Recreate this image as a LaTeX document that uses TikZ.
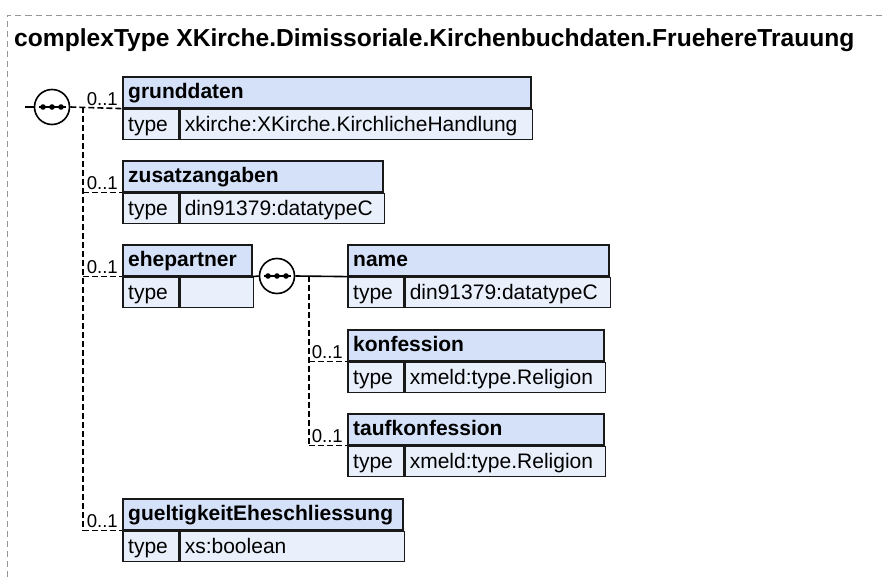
\documentclass[tikz,border=0pt]{standalone}
\usepackage{fontspec}
\setmainfont{Liberation Sans}
\definecolor{hdrblue}{RGB}{212,225,248}
\definecolor{typblue}{RGB}{233,240,252}
\definecolor{framegray}{RGB}{150,150,150}
\tikzset{
  boxline/.style={draw=black!90, line width=1.6pt},
  hdr/.style={boxline, fill=hdrblue, inner sep=0pt, minimum height=31, anchor=north west},
  typ/.style={boxline, fill=typblue, inner sep=0pt, minimum height=30, anchor=north west},
  tname/.style={inner sep=0pt, anchor=base west, font=\bfseries\fontsize{21}{24}\selectfont},
  txt/.style={inner sep=0pt, anchor=base west, font=\fontsize{21}{24}\selectfont},
  mult/.style={inner sep=0pt, anchor=base east, font=\fontsize{18.6}{22}\selectfont},
  conn/.style={draw=black, line width=1.6pt, dash pattern=on 6pt off 3pt},
  solidconn/.style={draw=black, line width=1.6pt},
  seqc/.style={circle, draw=black, line width=1.6pt, fill=white, minimum size=35, inner sep=0pt},
  frame/.style={draw=framegray, line width=0.9pt, dash pattern=on 6pt off 4pt},
}
\newcommand\xbox[6]{%
  \node[hdr, minimum width=#4] (#1) at (#2,#3) {};
  \node[tname] (#1-n) at ([xshift=6pt, yshift=10pt]#1.south west) {#5};
  \node[typ, minimum width=56] (#1-t) at (#1.south west) {};
  \node[txt] (#1-tt) at ([xshift=6pt, yshift=9pt]#1-t.south west) {type};
  \pgfmathsetmacro\valw{#4-56}%
  \node[typ, minimum width=\valw] (#1-v) at (#1-t.north east) {};
  \node[txt] (#1-vt) at ([xshift=5pt, yshift=9pt]#1-v.south west) {#6};
}
\newcommand\seqsym[1]{%
  \draw[line width=1.6pt] ([xshift=-13.5pt]#1.center) -- ([xshift=13.5pt]#1.center);
  \fill ([xshift=-9pt]#1.center) circle (2.8pt);
  \fill (#1.center) circle (2.8pt);
  \fill ([xshift=9pt]#1.center) circle (2.8pt);
}
\begin{document}
\begin{tikzpicture}[x=1pt, y=-1pt]
\useasboundingbox (0,0) rectangle (882,577);
\fill[white] (0,0) rectangle (882,577);
% outer frame
\draw[frame] (7.5,577) -- (7.5,15) -- (882,15);
\node[inner sep=0pt, anchor=base west, font=\bfseries\fontsize{24.6}{28}\selectfont] (title) at (14,47) {complexType XKirche.Dimissoriale.Kirchenbuchdaten.FruehereTrauung};

% boxes
\xbox{gr}{122}{76}{408}{grunddaten}{xkirche:XKirche.KirchlicheHandlung}
\xbox{zu}{122}{160}{260}{zusatzangaben}{din91379:datatypeC}
\xbox{ep}{122}{244}{129}{ehepartner}{}
\xbox{nm}{347}{244}{261}{name}{din91379:datatypeC}
\xbox{ko}{347}{329}{256}{konfession}{xmeld:type.Religion}
\xbox{tk}{347}{413}{256}{taufkonfession}{xmeld:type.Religion}
\xbox{gu}{122}{498}{280}{gueltigkeitEheschliessung}{xs:boolean}

% sequence 1
\node[seqc] (s1) at (52,107) {};
\seqsym{s1}
\coordinate (s1in) at (25,107);
\coordinate (sp1) at (83,107);
\draw[solidconn] (s1in) -- (s1.west);
\draw[conn] (s1.east) -- (gr.south west);
\draw[conn] (sp1) -- (sp1 |- gu.south west);
\draw[conn] (sp1 |- zu.south west) -- (zu.south west);
\draw[conn] (sp1 |- ep.south west) -- (ep.south west);
\draw[conn] (sp1 |- gu.south west) -- (gu.south west);

% sequence 2
\node[seqc] (s2) at (277,276) {};
\seqsym{s2}
\coordinate (sp2) at (309,276);
\draw[solidconn] (ep.south east) -- (s2.west);
\draw[solidconn] (s2.east) -- (nm.south west);
\draw[conn] (sp2) -- (sp2 |- tk.south west);
\draw[conn] (sp2 |- ko.south west) -- (ko.south west);
\draw[conn] (sp2 |- tk.south west) -- (tk.south west);

% multiplicities
\node[mult] (m-gr) at ([xshift=-4pt, yshift=3.5pt]gr.south west) {0..1};
\node[mult] (m-zu) at ([xshift=-4pt, yshift=3.5pt]zu.south west) {0..1};
\node[mult] (m-ep) at ([xshift=-4pt, yshift=3.5pt]ep.south west) {0..1};
\node[mult] (m-ko) at ([xshift=-4pt, yshift=3.5pt]ko.south west) {0..1};
\node[mult] (m-tk) at ([xshift=-4pt, yshift=3.5pt]tk.south west) {0..1};
\node[mult] (m-gu) at ([xshift=-4pt, yshift=3.5pt]gu.south west) {0..1};
\end{tikzpicture}
\end{document}
